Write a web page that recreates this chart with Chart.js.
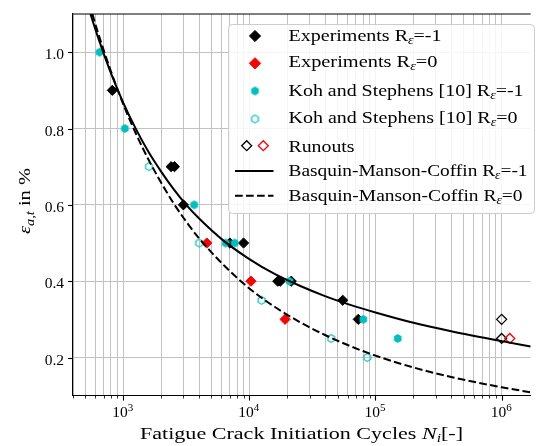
<!DOCTYPE html>
<html>
<head>
<meta charset="utf-8">
<script src="https://cdn.jsdelivr.net/npm/chart.js@4/dist/chart.umd.min.js"></script>
<style>
  html, body { margin: 0; padding: 0; background: #fff; }
</style>
</head>
<body>
<canvas id="chart" width="537" height="446"></canvas>
<script>
// Experiments, R_eps = -1
const expN1 = [820, 2400, 2550, 3000, 7000, 9000, 16800, 17600, 21500, 55000, 73000];
const expE1 = [0.9, 0.7, 0.7, 0.6, 0.5, 0.5, 0.4, 0.4, 0.4, 0.35, 0.3];
// Experiments, R_eps = 0
const expN0 = [4600, 10300, 19200];
const expE0 = [0.5, 0.4, 0.3];
// Koh and Stephens [10]
const kohN1 = [650, 1030, 3650, 6500, 7650, 20800, 80000, 150000];
const kohE1 = [1.0, 0.8, 0.6, 0.5, 0.5, 0.4, 0.3, 0.25];
const kohN0 = [1600, 4000, 12500, 44500, 86000];
const kohE0 = [0.7, 0.5, 0.35, 0.25, 0.2];
// runouts
const runN1 = [1000000, 1000000];
const runE1 = [0.3, 0.25];
const runN0 = [1160000];
const runE0 = [0.25];
// Basquin-Manson-Coffin curves
const bmcN1 = [550, 630, 795, 1000, 1260, 1585, 2000, 2510, 3160, 3980, 6310, 10000, 15850, 25100, 39800, 63100, 100000, 200000, 398000, 1000000, 1700000];
const bmcE1 = [1.1, 1.04, 0.947, 0.868, 0.799, 0.739, 0.687, 0.641, 0.6, 0.565, 0.505, 0.458, 0.419, 0.388, 0.361, 0.338, 0.318, 0.291, 0.269, 0.243, 0.229];
const bmcN0 = [570, 630, 795, 1000, 1260, 1585, 2000, 2510, 3160, 3980, 6310, 10000, 15850, 25100, 39800, 63100, 100000, 200000, 398000, 1000000, 1700000];
const bmcE0 = [1.1, 1.052, 0.952, 0.864, 0.787, 0.719, 0.658, 0.604, 0.556, 0.513, 0.441, 0.381, 0.333, 0.293, 0.259, 0.23, 0.205, 0.174, 0.149, 0.122, 0.109];

// axes
const xMin = 400, xMax = 1700000;
const xMajor = [1000, 10000, 100000, 1000000];
const xMajorExp = ['3', '4', '5', '6'];
const yMin = 0.1, yMax = 1.1;
const yTicks = [0.2, 0.4, 0.6, 0.8, 1.0];
const yTickLabels = ['0.2', '0.4', '0.6', '0.8', '1.0'];

const xTicks = [];
for (let e = 2; e <= 6; e++) {
  for (let m = 1; m <= 9; m++) {
    const v = m * Math.pow(10, e);
    if (v >= xMin && v <= xMax) xTicks.push(v);
  }
}

const CYAN = '#00bfbf';
const FONT = '"Liberation Serif", "DejaVu Serif", serif';
const FS = 16.7;

const pts = (xs, ys) => xs.map((x, i) => ({ x: x, y: ys[i] }));

function hexagon(r, fill, stroke, lw) {
  const c = document.createElement('canvas');
  const s = Math.ceil(2 * r + lw + 2);
  c.width = s;
  c.height = s;
  const g = c.getContext('2d');
  g.beginPath();
  for (let k = 0; k < 6; k++) {
    const a = Math.PI / 2 + k * Math.PI / 3;
    const px = s / 2 + r * Math.cos(a);
    const py = s / 2 - r * Math.sin(a);
    if (k === 0) g.moveTo(px, py); else g.lineTo(px, py);
  }
  g.closePath();
  if (fill) { g.fillStyle = fill; g.fill(); }
  if (stroke) { g.strokeStyle = stroke; g.lineWidth = lw; g.stroke(); }
  return c;
}
const hexFull = hexagon(4.4, CYAN, null, 0);
const hexOpen = hexagon(3.9, null, CYAN, 1.2);

// rich text: parts = [text, size, style, dy]
function drawRuns(ctx, parts, x, y, align, target) {
  let w = 0;
  parts.forEach(p => {
    ctx.font = (p[2] || '') + ' ' + p[1] + 'px ' + FONT;
    p.w = ctx.measureText(p[0]).width;
    w += p.w;
  });
  const sx = target ? target / w : 1;
  ctx.save();
  ctx.translate(x, y);
  ctx.scale(sx, 1);
  let cx = align === 'center' ? -w / 2 : (align === 'right' ? -w : 0);
  ctx.textAlign = 'left';
  ctx.textBaseline = 'alphabetic';
  parts.forEach(p => {
    ctx.font = (p[2] || '') + ' ' + p[1] + 'px ' + FONT;
    ctx.fillText(p[0], cx, p[3] || 0);
    cx += p.w;
  });
  ctx.restore();
}

function diamond(ctx, x, y, r, fill, stroke, lw) {
  ctx.beginPath();
  ctx.moveTo(x - r, y);
  ctx.lineTo(x, y - r);
  ctx.lineTo(x + r, y);
  ctx.lineTo(x, y + r);
  ctx.closePath();
  if (fill) { ctx.fillStyle = fill; ctx.fill(); }
  if (stroke) { ctx.strokeStyle = stroke; ctx.lineWidth = lw; ctx.stroke(); }
}

const rEps = (txt) => [['R', FS], ['\u03b5', FS * 0.7, 'italic', 3], [txt, FS]];

const legendRows = [
  { y: 40.7, w: 153, parts: [['Experiments ', FS]].concat(rEps('=-1')) },
  { y: 67.3, w: 149, parts: [['Experiments ', FS]].concat(rEps('=0')) },
  { y: 96, w: 235, parts: [['Koh and Stephens [10] ', FS]].concat(rEps('=-1')) },
  { y: 123.3, w: 229, parts: [['Koh and Stephens [10] ', FS]].concat(rEps('=0')) },
  { y: 151.7, w: 66, parts: [['Runouts', FS]] },
  { y: 175.7, w: 239, parts: [['Basquin-Manson-Coffin ', FS]].concat(rEps('=-1')) },
  { y: 200.7, w: 234, parts: [['Basquin-Manson-Coffin ', FS]].concat(rEps('=0')) }
];

const overlay = {
  id: 'overlay',
  afterDraw(chart) {
    const ctx = chart.ctx;
    const a = chart.chartArea;
    const xs = chart.scales.x;
    const ys = chart.scales.y;
    ctx.save();
    ctx.fillStyle = '#000';
    ctx.strokeStyle = '#000';

    // top spine
    ctx.lineWidth = 1.1;
    ctx.beginPath();
    ctx.moveTo(a.left, a.top);
    ctx.lineTo(a.right, a.top);
    ctx.stroke();

    // x tick marks + labels
    xTicks.forEach(v => {
      const px = Math.round(xs.getPixelForValue(v)) + 0.5;
      const len = xMajor.includes(v) ? 4.9 : 2.8;
      ctx.lineWidth = xMajor.includes(v) ? 1.1 : 0.8;
      ctx.beginPath();
      ctx.moveTo(px, a.bottom);
      ctx.lineTo(px, a.bottom + len);
      ctx.stroke();
    });
    xMajor.forEach((v, i) => {
      const px = xs.getPixelForValue(v);
      drawRuns(ctx, [['10', 15.5], [xMajorExp[i], 11, '', -6.5]], px - 0.5, 417, 'center');
    });

    // y tick marks + labels
    yTicks.forEach((v, i) => {
      const py = Math.round(ys.getPixelForValue(v)) + 0.5;
      ctx.lineWidth = 1.1;
      ctx.beginPath();
      ctx.moveTo(a.left - 4.9, py);
      ctx.lineTo(a.left, py);
      ctx.stroke();
      drawRuns(ctx, [[yTickLabels[i], 15.5]], 64, py + 6, 'right');
    });

    // axis titles
    drawRuns(ctx, [['Fatigue Crack Initiation Cycles ', FS], ['N', FS, 'italic'],
      ['i', FS * 0.7, 'italic', 3], ['[-]', FS]], 301.5, 439, 'center', 323);
    ctx.save();
    ctx.translate(30, 201);
    ctx.rotate(-Math.PI / 2);
    drawRuns(ctx, [['\u03b5', FS, 'italic'], ['a,t', FS * 0.7, 'italic', 3.5], [' in %', FS]], 0, 0, 'center', 66);
    ctx.restore();

    // legend
    const L = 228.5, T = 24.5, R = 534.5, B = 213.5, rad = 4;
    ctx.beginPath();
    ctx.moveTo(L + rad, T);
    ctx.lineTo(R - rad, T);
    ctx.quadraticCurveTo(R, T, R, T + rad);
    ctx.lineTo(R, B - rad);
    ctx.quadraticCurveTo(R, B, R - rad, B);
    ctx.lineTo(L + rad, B);
    ctx.quadraticCurveTo(L, B, L, B - rad);
    ctx.lineTo(L, T + rad);
    ctx.quadraticCurveTo(L, T, L + rad, T);
    ctx.closePath();
    ctx.fillStyle = 'rgba(255,255,255,0.85)';
    ctx.fill();
    ctx.strokeStyle = '#cccccc';
    ctx.lineWidth = 1;
    ctx.stroke();

    diamond(ctx, 255, 36, 5.6, '#000', '#000', 1);
    diamond(ctx, 255, 63.3, 5.6, '#ff0000', '#ff0000', 1);
    ctx.drawImage(hexFull, 255 - hexFull.width / 2, 91 - hexFull.height / 2);
    ctx.drawImage(hexOpen, 255 - hexOpen.width / 2, 119 - hexOpen.height / 2);
    diamond(ctx, 246.7, 145.7, 5, null, '#000', 1.3);
    diamond(ctx, 263.3, 145.7, 5, null, '#ff0000', 1.3);
    ctx.strokeStyle = '#000';
    ctx.lineWidth = 2;
    ctx.beginPath();
    ctx.moveTo(235, 171);
    ctx.lineTo(273.5, 171);
    ctx.stroke();
    ctx.setLineDash([7.7, 3.3]);
    ctx.beginPath();
    ctx.moveTo(235, 195.7);
    ctx.lineTo(273.5, 195.7);
    ctx.stroke();
    ctx.setLineDash([]);

    ctx.fillStyle = '#000';
    legendRows.forEach(r => drawRuns(ctx, r.parts, 288.5, r.y, 'left', r.w));
    ctx.restore();
  }
};

const lineDs = (label, data, dash) => ({
  label: label,
  data: data,
  showLine: true,
  borderColor: '#000',
  borderWidth: 2,
  borderDash: dash,
  pointRadius: 0,
  cubicInterpolationMode: 'monotone',
  fill: false
});

new Chart(document.getElementById('chart'), {
  type: 'scatter',
  data: {
    datasets: [
      lineDs('Basquin-Manson-Coffin R=0', pts(bmcN0, bmcE0), [7.7, 3.3]),
      lineDs('Basquin-Manson-Coffin R=-1', pts(bmcN1, bmcE1), []),
      {
        label: 'Runouts R=0', data: pts(runN0, runE0), pointStyle: 'rectRot',
        pointRadius: 5, borderWidth: 1.3, borderColor: '#ff0000', backgroundColor: 'rgba(0,0,0,0)'
      },
      {
        label: 'Runouts R=-1', data: pts(runN1, runE1), pointStyle: 'rectRot',
        pointRadius: 5, borderWidth: 1.3, borderColor: '#000', backgroundColor: 'rgba(0,0,0,0)'
      },
      { label: 'Koh and Stephens R=0', data: pts(kohN0, kohE0), pointStyle: hexOpen },
      { label: 'Koh and Stephens R=-1', data: pts(kohN1, kohE1), pointStyle: hexFull },
      {
        label: 'Experiments R=0', data: pts(expN0, expE0), pointStyle: 'rectRot',
        pointRadius: 5.1, borderWidth: 1, borderColor: '#ff0000', backgroundColor: '#ff0000'
      },
      {
        label: 'Experiments R=-1', data: pts(expN1, expE1), pointStyle: 'rectRot',
        pointRadius: 5.1, borderWidth: 1, borderColor: '#000', backgroundColor: '#000'
      }
    ]
  },
  options: {
    responsive: false,
    animation: false,
    devicePixelRatio: 1,
    layout: { padding: { top: 14, right: 0, left: 0, bottom: 0 } },
    plugins: { legend: { display: false }, tooltip: { enabled: false } },
    scales: {
      x: {
        type: 'logarithmic',
        min: xMin,
        max: xMax,
        afterBuildTicks: s => { s.ticks = xTicks.map(v => ({ value: v, major: xMajor.includes(v) })); },
        afterFit: s => { s.height = 50.3; },
        ticks: { display: false },
        grid: { color: '#c2c2c2', lineWidth: 1, drawTicks: false },
        border: { color: '#000', width: 1.1 }
      },
      y: {
        type: 'linear',
        min: yMin,
        max: yMax,
        afterBuildTicks: s => { s.ticks = yTicks.map(v => ({ value: v })); },
        afterFit: s => { s.width = 73; },
        ticks: { display: false },
        grid: { color: '#c2c2c2', lineWidth: 1, drawTicks: false },
        border: { color: '#000', width: 1.1 }
      }
    }
  },
  plugins: [overlay]
});
</script>
</body>
</html>
